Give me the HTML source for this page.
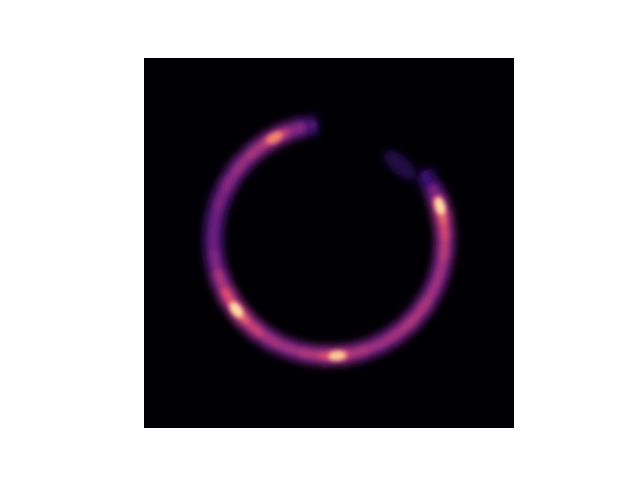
<!DOCTYPE html>
<html><head><meta charset="utf-8"><style>
html,body{margin:0;padding:0;background:#fff;width:640px;height:480px;overflow:hidden}
</style></head><body>
<svg id="chart" width="640" height="480" viewBox="0 0 640 480">
<defs>
<filter id="blur" x="-20%" y="-20%" width="140%" height="140%"><feGaussianBlur stdDeviation="4"/></filter>
<filter id="blur2" x="-50%" y="-50%" width="200%" height="200%"><feGaussianBlur stdDeviation="2.5"/></filter>
<clipPath id="clip"><rect x="144" y="58" width="370" height="370"/></clipPath>
</defs>
<rect x="144" y="58" width="370" height="370" fill="#000004"/>
<g id="ring" clip-path="url(#clip)"></g>
</svg>
<script>
const angles = [-36,-28,-22,-16,-8,0,10,20,30,40,50,60,70,80,86,95,105,115,125,135,145,155,165,175,185,195,205,215,225,235,242,250,258,264];
const intensity = [0.2,0.4,0.7,0.95,0.85,0.78,0.7,0.65,0.68,0.72,0.7,0.66,0.66,0.75,0.9,0.75,0.68,0.65,0.72,0.85,0.95,0.78,0.62,0.5,0.48,0.5,0.58,0.62,0.66,0.72,0.8,0.68,0.5,0.25];
const blobs = [[-17,0.95],[86,0.92],[143,0.95],[242,0.8]];
const cx=329, cy=240, R=116;
const stops=[[0,[0,0,4]],[0.25,[59,15,112]],[0.5,[140,41,129]],[0.7,[222,73,104]],[0.85,[254,159,109]],[1,[252,253,191]]];
function magma(t){t=Math.max(0,Math.min(1,t));for(let i=1;i<stops.length;i++){if(t<=stops[i][0]){const a=stops[i-1],b=stops[i],f=(t-a[0])/(b[0]-a[0]);return 'rgb('+a[1].map((v,k)=>Math.round(v+(b[1][k]-v)*f)).join(',')+')';}}return 'rgb(252,253,191)';}
function px(a,r){return [cx+r*Math.cos(a*Math.PI/180), cy+r*Math.sin(a*Math.PI/180)];}
const g=document.getElementById('ring');
const NS='http://www.w3.org/2000/svg';
const halo=document.createElementNS(NS,'g');halo.setAttribute('filter','url(#blur)');g.appendChild(halo);
for(let i=0;i<angles.length-1;i++){
  const p1=px(angles[i],R),p2=px(angles[i+1],R);
  const v=(intensity[i]+intensity[i+1])/2;
  const l=document.createElementNS(NS,'line');
  
  
  l.setAttribute('x1',p1[0]);l.setAttribute('y1',p1[1]);l.setAttribute('x2',p2[0]);l.setAttribute('y2',p2[1]);
  l.setAttribute('stroke',magma(v*0.6));l.setAttribute('stroke-width',20);l.setAttribute('stroke-linecap','butt');
  halo.appendChild(l);
}
const core=document.createElementNS(NS,'g');core.setAttribute('filter','url(#blur2)');g.appendChild(core);
for(let i=0;i<angles.length-1;i++){
  const p1=px(angles[i],R),p2=px(angles[i+1],R);
  const v=(intensity[i]+intensity[i+1])/2;
  const l=document.createElementNS(NS,'line');
  
  
  l.setAttribute('x1',p1[0]);l.setAttribute('y1',p1[1]);l.setAttribute('x2',p2[0]);l.setAttribute('y2',p2[1]);
  l.setAttribute('stroke',magma(v*0.82));l.setAttribute('stroke-width',8);l.setAttribute('stroke-linecap','butt');
  core.appendChild(l);
}
blobs.forEach(b=>{
  const p=px(b[0],R);
  const c=document.createElementNS(NS,'ellipse');
  
  
  c.setAttribute('cx',p[0]);c.setAttribute('cy',p[1]);c.setAttribute('rx',9);c.setAttribute('ry',5);
  c.setAttribute('fill',magma(b[1]));c.setAttribute('filter','url(#blur2)');
  c.setAttribute('transform','rotate('+(b[0]+90)+' '+p[0]+' '+p[1]+')');
  g.appendChild(c);
});
const d=document.createElementNS(NS,'ellipse');


d.setAttribute('cx',400);d.setAttribute('cy',165);d.setAttribute('rx',20);d.setAttribute('ry',9);
d.setAttribute('transform','rotate(40 400 165)');d.setAttribute('fill','rgb(35,10,70)');d.setAttribute('filter','url(#blur)');
g.appendChild(d);
</script>
</body></html>
